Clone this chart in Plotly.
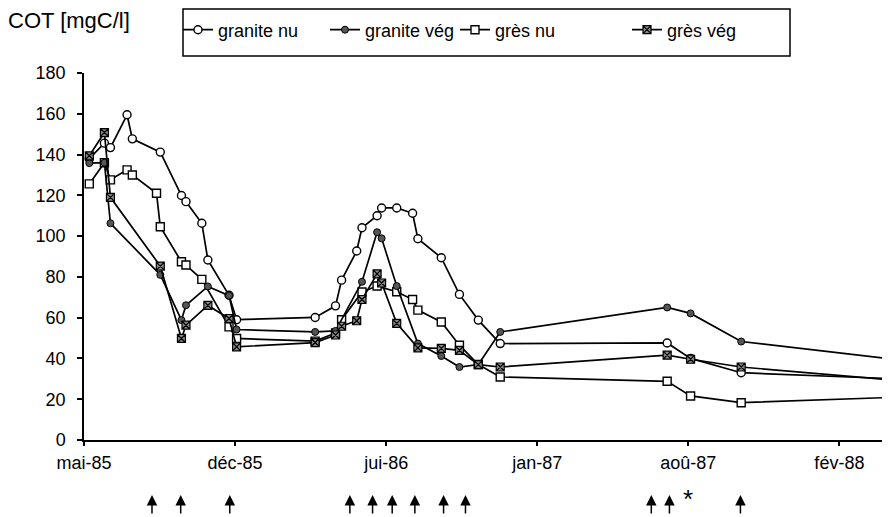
import plotly.graph_objects as go
import pandas as pd

# Sampling dates
dates = ["1985-06-04", "1985-06-24", "1985-07-02", "1985-07-24", "1985-07-31",
         "1985-09-01", "1985-09-06", "1985-10-04", "1985-10-10", "1985-10-31",
         "1985-11-08", "1985-12-06", "1985-12-16", "1986-03-30", "1986-04-26",
         "1986-05-04", "1986-05-24", "1986-05-31", "1986-06-20", "1986-06-26",
         "1986-07-16", "1986-08-06", "1986-08-13", "1986-09-13", "1986-10-07",
         "1986-11-01", "1986-11-30", "1987-07-09", "1987-08-09", "1987-10-15",
         "1988-04-25"]

granite_nu = [138, 145.6, 143.4, 159.5, 147.7, None, 141.2, 119.9, 116.9, 106.3,
              88.3, 71, 59, 60.1, 65.8, 78.4, 92.7, 104.1, 110, 113.8,
              113.8, 111.2, 98.7, 89.4, 71.4, 58.8, 47.3, 47.6, 40, 33, 30.2]
granite_veg = [135.8, 136, 106.3, None, None, None, 81, 58.8, 66.1, None,
               75.3, 70.8, 54.2, 53, 53.5, None, None, 77.6, 101.9, 98.9,
               75.5, None, 47.3, 41.2, 35.8, 37, 53, 65, 62.1, 48.3, 40]
gres_nu = [125.6, 136, 127.6, 132.5, 130, 121, 104.6, 87.4, 85.8, 78.8,
           None, 55.5, 49.8, 48.5, 52.5, 59, None, 72.6, 75.5, None,
           72.7, 68.9, 63.7, 57.9, 46.5, 37, 30.9, 28.8, 21.6, 18.3, 20.8]
gres_veg = [139.4, 150.8, 119, None, None, None, 85.3, 49.8, 56.3, None,
            66, 59.6, 45.7, 47.8, 51.5, 55.8, 58.5, 68.9, 81.5, 77,
            57.2, None, 45.2, 44.9, 44, 37, 35.8, 41.6, 39.6, 35.8, 29.6]

# Events marked with arrows below the axis
event_dates = ["1985-08-26", "1985-10-03", "1985-12-07", "1986-05-15", "1986-06-14",
               "1986-07-10", "1986-08-09", "1986-09-16", "1986-10-15", "1987-06-18",
               "1987-07-12", "1987-10-14"]
star_date = "1987-08-05"

# Axis ticks
tick_start = "1985-05-28"
tick_labels = ["mai-85", "déc-85", "jui-86", "jan-87", "aoû-87", "fév-88"]
tick_vals = [d.strftime("%Y-%m-%d") for d in pd.date_range(tick_start, periods=len(tick_labels), freq="200D")]
x_end = "1988-04-29"
y_ticks = [0, 20, 40, 60, 80, 100, 120, 140, 160, 180]

FONT = "Liberation Sans, Arial, sans-serif"

# the page body has an 8px margin: lay the figure out in page pixels minus 8
OFF = 8
W, H = 890 - OFF, 517 - OFF
PLOT_L, PLOT_R, PLOT_T, PLOT_B = 84, 890, 73, 440       # page pixels
ML, MR, MT, MB = PLOT_L - OFF, 0, PLOT_T - OFF, H - (PLOT_B - OFF)
PW, PH = PLOT_R - PLOT_L, PLOT_B - PLOT_T


def px_x(px):
    return (px - PLOT_L) / PW


def px_y(py):
    return (PLOT_B - py) / PH


fig = go.Figure()

series = [
    ("granite nu", granite_nu, dict(symbol="circle", size=8, color="white",
                                     line=dict(color="black", width=1.4)), "legend", 178),
    ("grès nu", gres_nu, dict(symbol="square", size=8, color="white",
                              line=dict(color="black", width=1.4)), "legend3", 455),
    ("granite vég", granite_veg, dict(symbol="circle", size=7, color="#555555",
                                      line=dict(color="black", width=1)), "legend2", 325),
    ("grès vég", gres_veg, dict(symbol="square-x", size=8, color="#888888",
                                line=dict(color="black", width=1.2)), "legend4", 627),
]

legend_layout = {}
for name, vals, marker, leg, lx in series:
    fig.add_trace(go.Scatter(
        x=dates, y=vals, name=name, mode="lines+markers", showlegend=True,
        connectgaps=True, line=dict(color="black", width=1.7),
        marker=marker, legend=leg, cliponaxis=False,
    ))
    legend_layout[leg] = dict(
        x=px_x(lx), y=px_y(30), xanchor="left", yanchor="middle",
        orientation="h", bgcolor="rgba(0,0,0,0)", borderwidth=0,
        font=dict(family=FONT, size=18, color="black"),
    )

# legend frame
fig.add_shape(type="rect", xref="paper", yref="paper",
              x0=px_x(183), x1=px_x(790), y0=px_y(56), y1=px_y(OFF + 1),
              line=dict(color="black", width=1.5), fillcolor="rgba(0,0,0,0)")

for d in event_dates:
    fig.add_annotation(x=d, y=px_y(495), xref="x", yref="paper", text="",
                       showarrow=True, ax=0, ay=20, arrowhead=2, arrowsize=1.4,
                       arrowwidth=1.5, arrowcolor="black")
fig.add_annotation(x=star_date, y=px_y(515), xref="x", yref="paper", text="*",
                   showarrow=False, xanchor="center", yanchor="bottom",
                   borderpad=0, yshift=0,
                   font=dict(family=FONT, size=26, color="black"))

fig.update_layout(
    width=W, height=H, autosize=False, showlegend=True,
    margin=dict(l=ML, r=MR, t=MT, b=MB, autoexpand=False),
    paper_bgcolor="white", plot_bgcolor="white",
    font=dict(family=FONT, size=18, color="black"),
    title=dict(text="COT [mgC/l]", xref="container", yref="container",
               x=0, y=1 - 12 / H, xanchor="left", yanchor="middle",
               font=dict(family=FONT, size=22, color="black")),
    xaxis=dict(type="date", range=[tick_start, x_end], tickvals=tick_vals,
               ticktext=tick_labels, showgrid=False, zeroline=False,
               showline=True, linecolor="black", linewidth=1.5,
               ticks="outside", ticklen=4, tickwidth=1.5, tickcolor="black",
               ticklabelstandoff=2,
               tickfont=dict(family=FONT, size=18, color="black")),
    yaxis=dict(range=[0, 180], tickvals=y_ticks, showgrid=False, zeroline=False,
               showline=True, linecolor="black", linewidth=1.5,
               ticks="outside", ticklen=5, tickwidth=1.5, tickcolor="black",
               ticklabelstandoff=8,
               tickfont=dict(family=FONT, size=18, color="black")),
    **legend_layout,
)

fig.write_html("out.html")
